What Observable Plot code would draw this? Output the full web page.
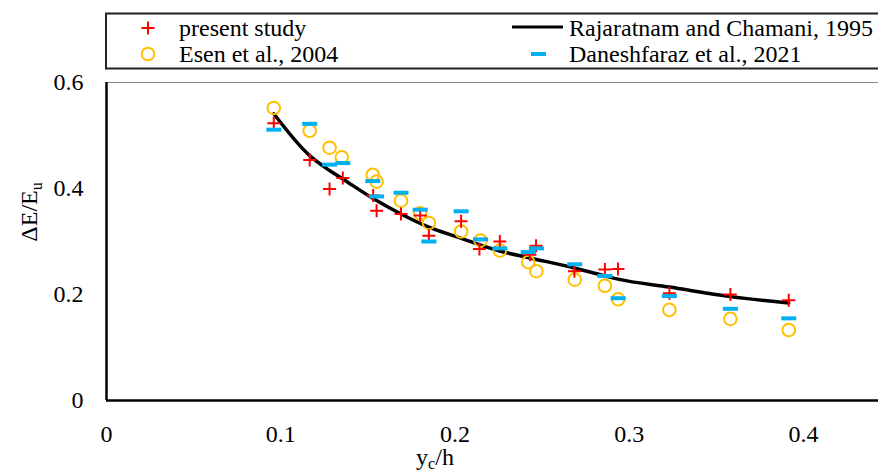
<!DOCTYPE html>
<html><head><meta charset="utf-8">
<script src="https://cdn.jsdelivr.net/npm/d3@7"></script>
<script src="https://cdn.jsdelivr.net/npm/@observablehq/plot@0.6"></script>
<style>
html,body{margin:0;padding:0;background:#fff;overflow:hidden;}
#wrap{width:878px;height:473px;position:relative;font-family:"Liberation Serif","Times New Roman",serif;}
#legend{width:878px;height:72px;display:block;}
#chart svg{display:block;}
</style></head><body>
<div id="wrap"><div id="legend"></div><div id="chart"></div></div>
<script>
// ---- data ----
const presentX = [0.096,0.1166,0.128,0.1356,0.153,0.155,0.169,0.180,0.185,0.2035,0.214,0.2257,0.243,0.2465,0.2685,0.286,0.2935,0.323,0.358,0.3915];
const presentY = [0.523,0.454,0.399,0.420,0.387,0.358,0.352,0.349,0.311,0.338,0.286,0.300,0.275,0.292,0.244,0.247,0.248,0.2025,0.200,0.189];

const esenX = [0.096,0.1166,0.128,0.135,0.1528,0.155,0.169,0.180,0.185,0.2035,0.2146,0.2257,0.242,0.2467,0.2687,0.286,0.2936,0.323,0.358,0.3915];
const esenY = [0.552,0.509,0.477,0.459,0.426,0.413,0.377,0.353,0.335,0.319,0.302,0.283,0.261,0.244,0.228,0.2165,0.191,0.171,0.154,0.133];

const danX = [0.096,0.1166,0.128,0.1356,0.1528,0.155,0.169,0.180,0.185,0.2035,0.2146,0.2257,0.242,0.2467,0.2687,0.286,0.2936,0.323,0.358,0.3915];
const danY = [0.511,0.522,0.445,0.448,0.414,0.385,0.392,0.360,0.300,0.357,0.304,0.287,0.280,0.287,0.257,0.235,0.193,0.197,0.173,0.155];

const rajX = [0.096,0.1166,0.128,0.1356,0.153,0.169,0.185,0.2035,0.2146,0.2257,0.243,0.2685,0.286,0.2935,0.323,0.358,0.3915];
const rajY = [0.541,0.462,0.434,0.418,0.381,0.352,0.327,0.306,0.293,0.282,0.269,0.250,0.235,0.229,0.214,0.196,0.184];

const xTicks = [0, 0.1, 0.2, 0.3, 0.4];
const yTicks = [0, 0.2, 0.4, 0.6];
const seriesNames = ["present study", "Esen et al., 2004", "Rajaratnam and Chamani, 1995", "Daneshfaraz et al., 2021"];

const RED = "#FF0000", ORANGE = "#FFC000", BLUE = "#00B0F0";
const FONT = '"Liberation Serif","Times New Roman",serif';

const zip = (xs, ys) => xs.map((x, i) => ({x, y: ys[i]}));
const present = zip(presentX, presentY);
const esen = zip(esenX, esenY);
const dan = zip(danX, danY);
const raj = zip(rajX, rajY);

const fmt = d => d === 0 ? "0" : d.toFixed(1);
const dash = {draw(ctx) { ctx.moveTo(-7.5,-2); ctx.lineTo(7.5,-2); ctx.lineTo(7.5,2); ctx.lineTo(-7.5,2); ctx.closePath(); }};
const plus = {draw(ctx) { ctx.moveTo(-6.5,0); ctx.lineTo(6.5,0); ctx.moveTo(0,-6.5); ctx.lineTo(0,6.5); }};

const chart = Plot.plot({
  width: 878, height: 401,
  marginLeft: 106, marginRight: 0, marginTop: 10, marginBottom: 73,
  style: {fontFamily: FONT, fontSize: "24px", color: "#000", background: "#fff", overflow: "visible"},
  x: {domain: [0, 0.443], ticks: xTicks, tickFormat: fmt, tickSize: 0, tickPadding: 24, label: null},
  y: {domain: [0, 0.6], ticks: yTicks, tickFormat: fmt, tickSize: 0, tickPadding: 23, label: null},
  marks: [
    Plot.ruleY([0.6], {stroke: "#888", strokeWidth: 1.2}),
    Plot.line(raj, {x: "x", y: "y", stroke: "#000", strokeWidth: 3.5, curve: "monotone-x"}),
    Plot.dot(esen, {x: "x", y: "y", symbol: "circle", r: 6.3, stroke: ORANGE, strokeWidth: 2, fill: "none"}),
    Plot.dot(present, {x: "x", y: "y", symbol: plus, fill: "none", stroke: RED, strokeWidth: 2}),
    Plot.dot(dan, {x: "x", y: "y", symbol: dash, fill: BLUE, stroke: "none"}),
    Plot.ruleX([0], {stroke: "#000", strokeWidth: 2.5}),
    Plot.ruleY([0], {stroke: "#000", strokeWidth: 2.5})
  ]
});
document.getElementById("chart").appendChild(chart);

// axis titles with subscripts
const svg = d3.select(chart);
const yl = svg.append("text").attr("transform", "translate(37,140) rotate(-90)")
  .attr("text-anchor", "middle").attr("font-family", FONT).attr("font-size", 24).attr("fill", "#000");
yl.append("tspan").text("ΔE/E");
yl.append("tspan").attr("font-size", 16).attr("dy", 5).text("u");
const xl = svg.append("text").attr("x", 435).attr("y", 393)
  .attr("text-anchor", "middle").attr("font-family", FONT).attr("font-size", 24).attr("fill", "#000");
xl.append("tspan").text("y");
xl.append("tspan").attr("font-size", 16).attr("dy", 4).text("c");
xl.append("tspan").attr("dy", -4).text("/h");

// legend (above the chart)
const lg = d3.select("#legend").append("svg").attr("width", 878).attr("height", 72);
lg.append("rect").attr("x", 106).attr("y", 13.5).attr("width", 800).attr("height", 55)
  .attr("fill", "none").attr("stroke", "#222").attr("stroke-width", 2);
const tx = (x, y, s) => lg.append("text").attr("x", x).attr("y", y).attr("font-family", FONT)
  .attr("font-size", 24).attr("fill", "#000").text(s);
// present study
lg.append("path").attr("d", "M141.5,28H154.5M148,21.5V34.5").attr("stroke", RED).attr("stroke-width", 2);
tx(179, 36, seriesNames[0]);
// Esen
lg.append("circle").attr("cx", 148).attr("cy", 54).attr("r", 6.3).attr("fill", "none").attr("stroke", ORANGE).attr("stroke-width", 2);
tx(179, 62, seriesNames[1]);
// Rajaratnam
lg.append("line").attr("x1", 512).attr("x2", 563).attr("y1", 27).attr("y2", 27).attr("stroke", "#000").attr("stroke-width", 3);
tx(569, 36, seriesNames[2]);
// Daneshfaraz
lg.append("rect").attr("x", 531).attr("y", 52).attr("width", 15).attr("height", 4).attr("fill", BLUE);
tx(569, 62, seriesNames[3]);
</script>
</body></html>
